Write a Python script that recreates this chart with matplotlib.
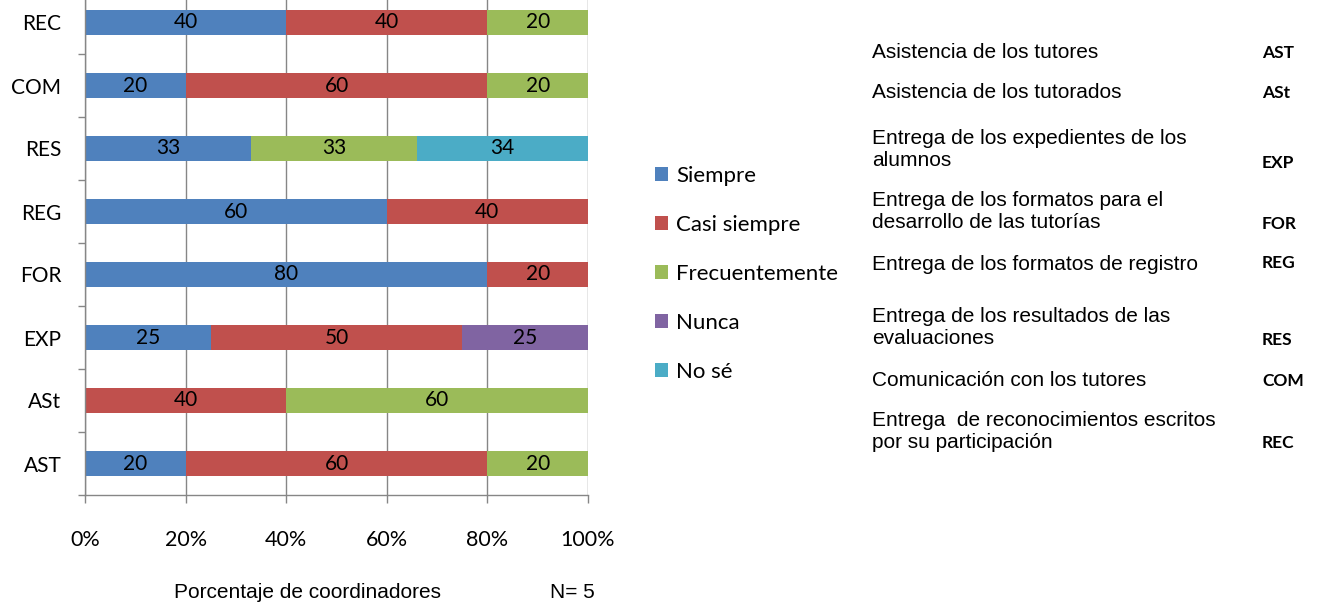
import numpy as np
import matplotlib
matplotlib.use("Agg")
import matplotlib.pyplot as plt
from matplotlib.ticker import FixedLocator

# Datos (porcentaje de coordinadores)
categorias = ['AST', 'ASt', 'EXP', 'FOR', 'REG', 'RES', 'COM', 'REC']
siempre = [20, 0, 25, 80, 60, 33, 20, 40]
casi_siempre = [60, 40, 50, 20, 40, 0, 60, 40]
frecuentemente = [20, 60, 0, 0, 0, 33, 20, 20]
nunca = [0, 0, 25, 0, 0, 0, 0, 0]
no_se = [0, 0, 0, 0, 0, 34, 0, 0]

series = ['Siempre', 'Casi siempre', 'Frecuentemente', 'Nunca', 'No sé']
colores = ['#4F81BD', '#C0504D', '#9BBB59', '#8064A2', '#4BACC6']
valores = [siempre, casi_siempre, frecuentemente, nunca, no_se]

x_ticks = [0, 20, 40, 60, 80, 100]
x_labels = ['0%', '20%', '40%', '60%', '80%', '100%']

descripciones = [
    'Asistencia de los tutores',
    'Asistencia de los tutorados',
    'Entrega de los expedientes de los\nalumnos',
    'Entrega de los formatos para el\ndesarrollo de las tutorías',
    'Entrega de los formatos de registro',
    'Entrega de los resultados de las\nevaluaciones',
    'Comunicación con los tutores',
    'Entrega  de reconocimientos escritos\npor su participación',
]
abrevs = ['AST', 'ASt', 'EXP', 'FOR', 'REG', 'RES', 'COM', 'REC']

plt.rcParams['font.family'] = ['Lato', 'DejaVu Sans']

W, H = 1321, 608
fig = plt.figure(figsize=(W / 100, H / 100), dpi=100)
ax = fig.add_axes([85 / W, 1 - 495 / H, (588 - 85) / W, 495 / H])

y = np.arange(len(categorias))
izq = np.zeros(len(categorias))
barras = []
for nombre, col, vals in zip(series, colores, valores):
    vals = np.array(vals, dtype=float)
    b = ax.barh(y, vals, left=izq, height=0.4, color=col, label=nombre, zorder=2)
    barras.append(b)
    for yi, l, v in zip(y, izq, vals):
        if v > 0:
            ax.text(l + v / 2, yi, '%d' % v, ha='center', va='center',
                    fontsize=15, color='black', zorder=3)
    izq += vals

ax.set_xlim(0, 100)
ax.set_ylim(-0.5, -0.5 + 495 / 63)
ax.set_xticks(x_ticks)
ax.set_xticklabels(x_labels, fontsize=15.5)
ax.set_yticks(y)
ax.set_yticklabels(categorias, fontsize=15)
ax.yaxis.set_minor_locator(FixedLocator(np.arange(-0.5, 7, 1.0)))
ax.tick_params(axis='y', which='major', length=0, pad=17)
ax.tick_params(axis='y', which='minor', length=5, color='#868686', width=1)
ax.tick_params(axis='x', which='major', length=6, color='#868686', width=1, pad=19)

ax.grid(True, axis='x', color='#868686', linewidth=1, zorder=0)
ax.set_axisbelow(True)
for s in ['top', 'right']:
    ax.spines[s].set_visible(False)
for s in ['left', 'bottom']:
    ax.spines[s].set_color('#868686')
    ax.spines[s].set_linewidth(1)

# Leyenda
fig.legend(handles=barras, loc='upper left', bbox_to_anchor=(655 / W, 1 - 166 / H),
           frameon=False, fontsize=16, handlelength=0.6, handleheight=0.6,
           handletextpad=0.35, labelspacing=1.3, borderaxespad=0, borderpad=0)

# Etiquetas inferiores
fig.text(307 / W, 1 - 593 / H, 'Porcentaje de coordinadores', ha='center', va='center',
         fontsize=15, family='Liberation Sans')
fig.text(572 / W, 1 - 593 / H, 'N= 5', ha='center', va='center',
         fontsize=15, family='Liberation Sans')

# Tabla de abreviaturas
y_desc = [53, 93, 150, 212, 265, 328, 381, 431]
y_abrev = [53, 93, 163, 224, 263, 340, 381, 443]
for d, a, yd, ya in zip(descripciones, abrevs, y_desc, y_abrev):
    fig.text(872 / W, 1 - yd / H, d, ha='left', va='center', fontsize=15,
             family='Liberation Sans', linespacing=1.2)
    fig.text(1262 / W, 1 - ya / H, a, ha='left', va='center', fontsize=12.5,
             fontweight='bold')

fig.savefig('out.png', dpi=100)
